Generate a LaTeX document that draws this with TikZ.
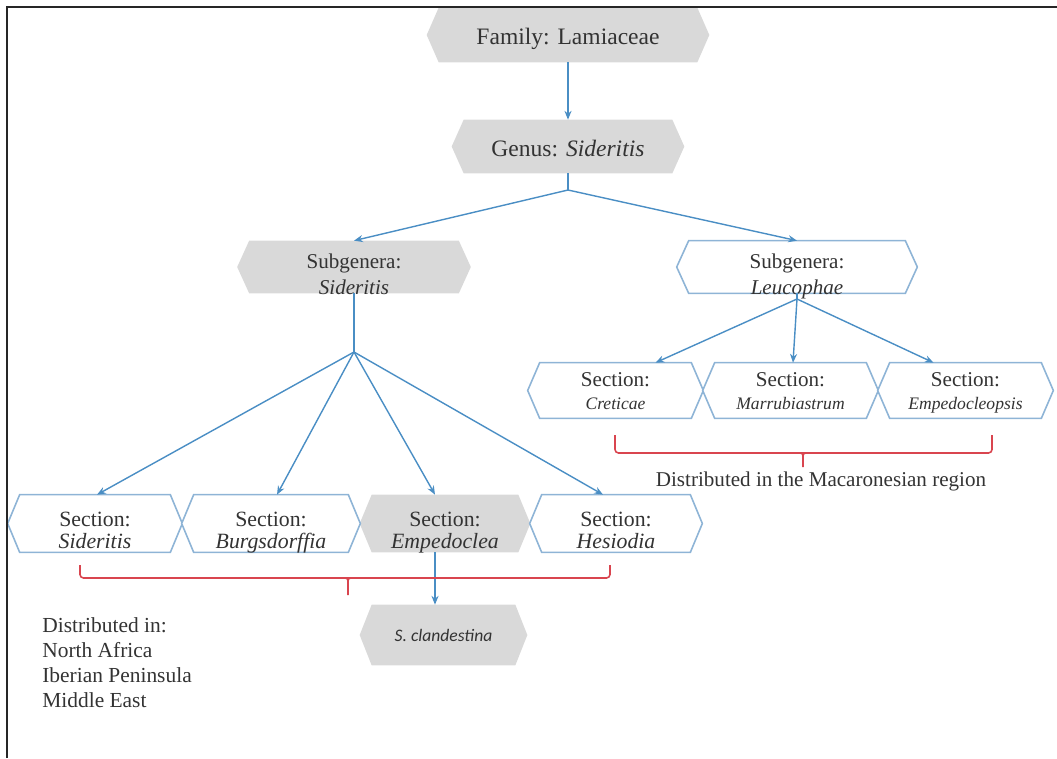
\documentclass[tikz,border=0pt]{standalone}
\usepackage{fontspec}
\setmainfont{Liberation Serif}
\newfontfamily\clfont{Carlito}
\usetikzlibrary{arrows.meta,backgrounds}
\definecolor{hexgray}{HTML}{D9D9D9}
\definecolor{hexline}{HTML}{8EB4D6}
\definecolor{arrowblue}{HTML}{4A8EC4}
\definecolor{bracered}{HTML}{D9454F}
\definecolor{txt}{HTML}{333333}
\newcommand{\dpfix}{\rule[-3.5pt]{0pt}{0pt}}
\begin{document}
\begin{tikzpicture}[x=0.02cm,y=-0.02cm,
  box/.style={inner sep=0pt},
  lab/.style={inner sep=0pt, align=center, text=txt},
  bigtxt/.style={font=\fontsize{13.4}{16}\selectfont},
  subtxt/.style={font=\fontsize{12}{15}\selectfont},
  sectxt/.style={font=\fontsize{12.4}{12.5}\selectfont},
  sectxtb/.style={font=\fontsize{12}{13}\selectfont},
  conn/.style={draw=arrowblue, line width=0.8pt},
  arr/.style={conn, -{Stealth[length=5pt,width=4pt]}},
  brace/.style={draw=bracered, line width=0.9pt, rounded corners=2pt},
  ticks/.style={draw=bracered, line width=0.9pt},
  grayhex/.style={fill=hexgray},
  whitehex/.style={draw=hexline, line width=0.9pt, fill=white},
  ]
\useasboundingbox (0,0) rectangle (1057,758);
% frame
\draw[line width=1.3pt, black!85] (7,758) -- (7,7) -- (1057,7);
% hexagon boxes
\node[box, minimum width=5.64cm, minimum height=1.08cm] (fam) at (568,35) {};
\node[box, minimum width=4.64cm, minimum height=1.06cm] (gen) at (568,146.5) {};
\node[box, minimum width=4.66cm, minimum height=1.04cm] (subS) at (354,267) {};
\node[box, minimum width=4.8cm, minimum height=1.04cm] (subL) at (797,267) {};
\node[box, minimum width=3.48cm, minimum height=1.14cm] (secS) at (95,523.5) {};
\node[box, minimum width=3.56cm, minimum height=1.14cm] (secB) at (271,523.5) {};
\node[box, minimum width=3.4cm, minimum height=1.14cm] (secE) at (445,523.5) {};
\node[box, minimum width=3.44cm, minimum height=1.14cm] (secH) at (616,523.5) {};
\node[box, minimum width=3.5cm, minimum height=1.1cm] (secC) at (615.5,390.5) {};
\node[box, minimum width=3.5cm, minimum height=1.1cm] (secM) at (790.5,390.5) {};
\node[box, minimum width=3.5cm, minimum height=1.1cm] (secP) at (965.5,390.5) {};
\node[box, minimum width=3.34cm, minimum height=1.2cm] (scl) at (443.5,635) {};
% hexagon shapes
\begin{scope}[on background layer]
\foreach \n in {fam,gen,subS,secE,scl}
  \path[grayhex] (\n.west) -- ([xshift=0.24cm]\n.north west) -- ([xshift=-0.24cm]\n.north east) -- (\n.east) -- ([xshift=-0.24cm]\n.south east) -- ([xshift=0.24cm]\n.south west) -- cycle;
\foreach \n in {subL,secS,secB,secH,secC,secM,secP}
  \path[whitehex] (\n.west) -- ([xshift=0.24cm]\n.north west) -- ([xshift=-0.24cm]\n.north east) -- (\n.east) -- ([xshift=-0.24cm]\n.south east) -- ([xshift=0.24cm]\n.south west) -- cycle;
\end{scope}
% texts
\node[lab, bigtxt] (famt) at ([yshift=-0.07cm]fam.center) {Family: Lamiaceae};
\node[lab, bigtxt] (gent) at ([yshift=-0.04cm]gen.center) {Genus: \textit{Sideritis}};
\node[lab, subtxt] (subSt) at ([yshift=-0.2cm]subS.center) {Subgenera:\\\textit{Sideritis}\dpfix};
\node[lab, subtxt] (subLt) at ([yshift=-0.2cm]subL.center) {Subgenera:\\\textit{Leucophae}\dpfix};
\node[lab, sectxt] (secSt) at ([yshift=-0.19cm]secS.center) {Section:\\\textit{Sideritis}\dpfix};
\node[lab, sectxt] (secBt) at ([yshift=-0.19cm]secB.center) {Section:\\\textit{Burgsdorffia}\dpfix};
\node[lab, sectxt] (secEt) at ([yshift=-0.19cm]secE.center) {Section:\\\textit{Empedoclea}\dpfix};
\node[lab, sectxt] (secHt) at ([yshift=-0.19cm]secH.center) {Section:\\\textit{Hesiodia}\dpfix};
\node[lab, sectxtb] (secCt) at ([yshift=-0.08cm]secC.center) {Section:\\{\fontsize{10}{13}\selectfont\itshape Creticae}\dpfix};
\node[lab, sectxtb] (secMt) at ([yshift=-0.08cm]secM.center) {Section:\\{\fontsize{10}{13}\selectfont\itshape Marrubiastrum}\dpfix};
\node[lab, sectxtb] (secPt) at ([yshift=-0.08cm]secP.center) {Section:\\{\fontsize{10}{13}\selectfont\itshape Empedocleopsis}\dpfix};
\node[lab, font=\clfont\fontsize{10}{12}\selectfont\itshape] (sclt) at (scl.center) {S. clandestina};
\node[anchor=north west, inner sep=0pt, align=left, text=txt, font=\fontsize{12.2}{14.2}\selectfont] (distA) at (42,617) {Distributed in:\\North Africa\\Iberian Peninsula\\Middle East};
\node[inner sep=0pt, text=txt, font=\fontsize{12}{14}\selectfont] (distM) at (821,481) {Distributed in the Macaronesian region};
% junctions
\coordinate (j1) at (568,190);
\coordinate (j2) at (354,352);
\coordinate (j3) at (797,299);
% connectors
\draw[arr] (fam.south) -- (gen.north);
\draw[conn] (gen.south) -- (j1);
\draw[arr] (j1) -- (subS.north);
\draw[arr] (j1) -- (subL.north);
\draw[conn] (subS.south) -- (j2);
\draw[arr] (j2) -- ([xshift=0.04cm]secS.north);
\draw[arr] (j2) -- ([xshift=0.12cm]secB.north);
\draw[arr] (j2) -- ([xshift=-0.2cm]secE.north);
\draw[arr] (j2) -- ([xshift=-0.26cm]secH.north);
\draw[conn] (subL.south) -- (j3);
\draw[arr] (j3) -- ([xshift=0.8cm]secC.north);
\draw[arr] (j3) -- ([xshift=0.05cm]secM.north);
\draw[arr] (j3) -- ([xshift=-0.64cm]secP.north);
\draw[arr] ([xshift=-0.2cm]secE.south) -- ([xshift=-0.2cm]secE.south |- scl.north);
% braces
\draw[brace] (80,565) -- (80,578) -- (610,578) -- (610,565);
\draw[ticks] (342,578) .. controls (348,578) .. (348,584) -- (348,595);
\draw[ticks] (354,578) .. controls (348,578) .. (348,584);
\draw[brace] (615,435) -- (615,453) -- (992,453) -- (992,435);
\draw[ticks] (797,453) .. controls (803,453) .. (803,459) -- (803,467);
\draw[ticks] (809,453) .. controls (803,453) .. (803,459);
\end{tikzpicture}
\end{document}
